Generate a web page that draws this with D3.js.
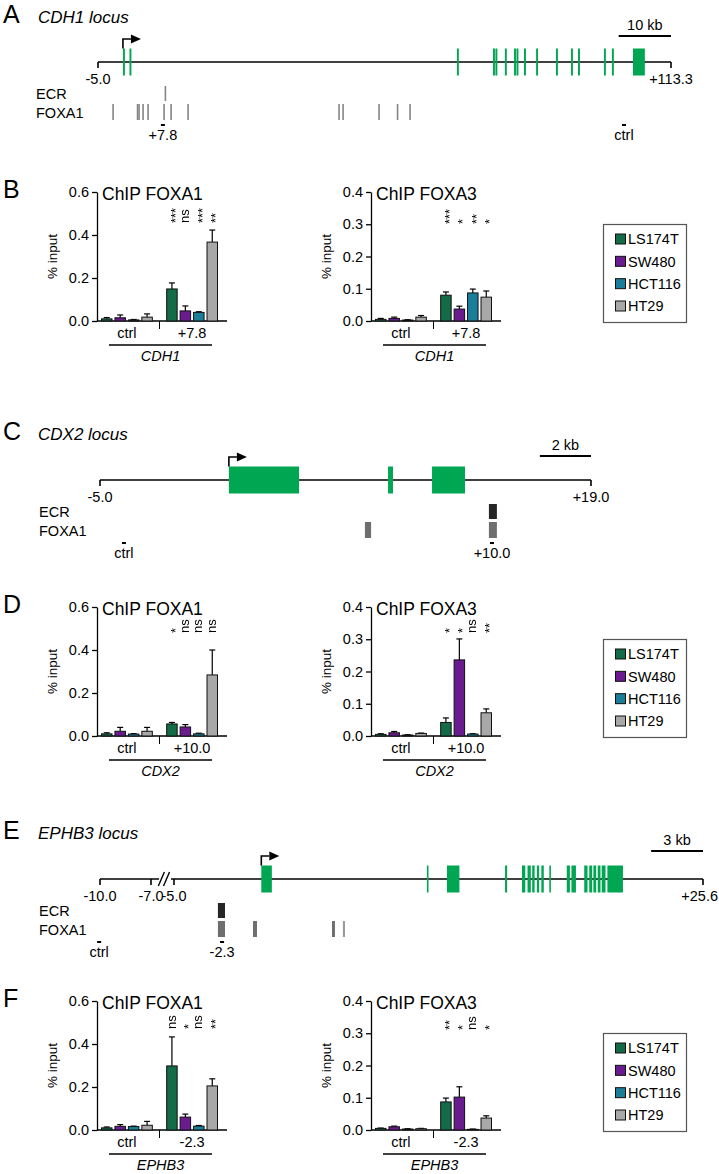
<!DOCTYPE html>
<html><head><meta charset="utf-8">
<script src="https://cdn.jsdelivr.net/npm/d3@7"></script>
<style>body{margin:0;background:#fff}svg{display:block}.sig{filter:grayscale(100%);opacity:0.999}</style>
</head><body>
<svg id="fig" width="719" height="1174"></svg>
<script>
const FONT = '"Liberation Sans", Arial, Helvetica, sans-serif';

// ---------- bar chart data ----------
const cellLines = ["LS174T", "SW480", "HCT116", "HT29"];
const cellColors = ["#136b48", "#6a1b8f", "#1b7e98", "#a8a8a8"];
const foxa1Ticks = [0.0, 0.2, 0.4, 0.6];
const foxa3Ticks = [0.0, 0.1, 0.2, 0.3, 0.4];

const cdh1Sites = ["ctrl", "+7.8"];
const cdh1Foxa1Mean = [[0.010, 0.015, 0.005, 0.018], [0.149, 0.047, 0.040, 0.367]];
const cdh1Foxa1Err  = [[0.006, 0.013, 0.002, 0.015], [0.028, 0.023, 0.003, 0.056]];
const cdh1Foxa1Sig  = ["***", "ns", "***", "**"];
const cdh1Foxa3Mean = [[0.005, 0.008, 0.003, 0.012], [0.080, 0.037, 0.087, 0.074]];
const cdh1Foxa3Err  = [[0.003, 0.004, 0.001, 0.005], [0.010, 0.009, 0.012, 0.019]];
const cdh1Foxa3Sig  = ["***", "*", "**", "*"];

const cdx2Sites = ["ctrl", "+10.0"];
const cdx2Foxa1Mean = [[0.010, 0.022, 0.009, 0.022], [0.056, 0.042, 0.010, 0.284]];
const cdx2Foxa1Err  = [[0.005, 0.018, 0.002, 0.018], [0.007, 0.011, 0.003, 0.116]];
const cdx2Foxa1Sig  = ["*", "ns", "ns", "ns"];
const cdx2Foxa3Mean = [[0.005, 0.010, 0.003, 0.008], [0.042, 0.236, 0.006, 0.072]];
const cdx2Foxa3Err  = [[0.002, 0.004, 0.001, 0.001], [0.014, 0.065, 0.001, 0.012]];
const cdx2Foxa3Sig  = ["*", "*", "ns", "**"];

const ephb3Sites = ["ctrl", "-2.3"];
const ephb3Foxa1Mean = [[0.010, 0.017, 0.016, 0.022], [0.298, 0.060, 0.018, 0.205]];
const ephb3Foxa1Err  = [[0.004, 0.008, 0.002, 0.018], [0.135, 0.014, 0.003, 0.033]];
const ephb3Foxa1Sig  = ["ns", "*", "ns", "**"];
const ephb3Foxa3Mean = [[0.005, 0.010, 0.003, 0.004], [0.087, 0.102, 0.002, 0.037]];
const ephb3Foxa3Err  = [[0.001, 0.002, 0.001, 0.001], [0.012, 0.032, 0.001, 0.007]];
const ephb3Foxa3Sig  = ["**", "*", "ns", "*"];

// ---------- locus data (kb) ----------
const cdh1Ticks = [-5.0, 113.3];
const cdh1TickLabels = ["-5.0", "+113.3"];
const cdh1Exons = [[0.15,0.55],[1.5,1.9],[69.1,69.5],[76.55,76.95],[77.05,77.45],[79.0,79.4],[80.9,81.3],[81.4,81.8],[82.95,83.35],[85.45,85.85],[89.55,89.95],[92.65,93.05],[94.1,94.5],[99.45,99.85],[101.1,101.5],[105.45,107.9]];
const cdh1Ecr = [[8.75,8.95]];
const cdh1Foxa1 = [[-2.05,-1.75],[3.0,3.3],[3.31,3.61],[4.14,4.44],[5.17,5.47],[8.47,8.77],[9.92,10.22],[13.43,13.73],[44.6,44.9],[45.43,45.73],[52.86,53.16],[56.68,56.98],[59.26,59.56]];
const cdh1Amplicons = [8.4, 103.6];
const cdh1AmpliconLabels = ["+7.8", "ctrl"];
const cdh1ScaleBar = [102.5, 113.3];

const cdx2Ticks = [-5.0, 19.0];
const cdx2TickLabels = ["-5.0", "+19.0"];
const cdx2Exons = [[1.3,4.73],[9.08,9.32],[11.23,12.84]];
const cdx2Ecr = [[14.01,14.4]];
const cdx2Foxa1 = [[7.95,8.25],[14.01,14.4]];
const cdx2Amplicons = [-3.83, 14.16];
const cdx2AmpliconLabels = ["ctrl", "+10.0"];
const cdx2ScaleBar = [16.5, 19.0];

const ephb3Ticks = [-10.0, -7.0, -5.0, 25.6];
const ephb3TickLabels = ["-10.0", "-7.0", "-5.0", "+25.6"];
const ephb3Exons = [[0.05,0.66],[9.63,9.72],[10.79,11.51],[14.15,14.27],[15.13,15.32],[15.45,15.64],[15.72,15.86],[15.99,16.12],[16.25,16.39],[16.71,16.79],[17.72,17.9],[17.99,18.25],[18.73,18.92],[19.02,19.19],[19.26,19.42],[19.51,19.67],[19.74,19.96],[20.07,20.97]];
const ephb3Ecr = [[-2.46,-2.05]];
const ephb3Foxa1 = [[-2.46,-2.05],[-0.43,-0.2],[4.14,4.31],[4.77,4.89]];
const ephb3Amplicons = [-10.05, -2.22];
const ephb3AmpliconLabels = ["ctrl", "-2.3"];
const ephb3ScaleBar = [22.6, 25.6];
const ephb3LineSegments = [[-10, -6.3], [-5.26, 25.6]];
const ephb3BreakMarks = [-6.1, -5.65];

// ---------- drawing ----------
const svg = d3.select("#fig");
svg.append("rect").attr("width", 719).attr("height", 1174).attr("fill", "#fff");

function txt(g, x, y, s, size, opts = {}) {
  return g.append("text").attr("x", x).attr("y", y).text(s)
    .attr("font-family", FONT).attr("font-size", size).attr("fill", opts.fill || "#000")
    .attr("text-anchor", opts.anchor || "start")
    .attr("font-style", opts.italic ? "italic" : "normal");
}

function locus(L) {
  const g = svg.append("g");
  const x = d3.scaleLinear().domain(L.domain).range(L.range);
  const y0 = L.lineY;
  txt(g, 3, L.titleY, L.letter, 25);
  txt(g, 38, L.titleY, L.title, 17, {italic: true});
  const segs = L.segments || [[L.ticks[0], L.ticks[L.ticks.length - 1]]];
  segs.forEach(s => g.append("line").attr("x1", x(s[0])).attr("x2", x(s[1])).attr("y1", y0).attr("y2", y0)
    .attr("stroke", "#000").attr("stroke-width", 1.6));
  (L.breaks || []).forEach(b => g.append("line").attr("x1", x(b) - 3).attr("x2", x(b) + 3)
    .attr("y1", y0 + 7).attr("y2", y0 - 7).attr("stroke", "#000").attr("stroke-width", 1.4));
  L.ticks.forEach((t, i) => {
    g.append("line").attr("x1", x(t)).attr("x2", x(t)).attr("y1", y0).attr("y2", y0 + 6)
      .attr("stroke", "#000").attr("stroke-width", 1.6);
    const tt = txt(g, x(t), y0 + 22, L.tickLabels[i], 14.5, {anchor: "middle"});
    const bb = tt.node().getBBox();
    if (bb.x + bb.width > 718) tt.attr("x", x(t) - (bb.x + bb.width - 718));
  });
  g.selectAll(null).data(L.exons).join("rect")
    .attr("x", d => x(d[0])).attr("width", d => Math.max(1.6, x(d[1]) - x(d[0])))
    .attr("y", y0 - 13.5).attr("height", 27).attr("fill", "#00a651");
  const tx = x(L.exons[0][0]);
  g.append("path").attr("d", `M${tx},${y0 - 13.5}V${y0 - 23}H${tx + 8}`)
    .attr("fill", "none").attr("stroke", "#000").attr("stroke-width", 1.6);
  g.append("path").attr("d", `M${tx + 8},${y0 - 27.5}L${tx + 18},${y0 - 23}L${tx + 8},${y0 - 18.5}Z`).attr("fill", "#000");
  const sy = y0 - L.sbOff;
  g.append("line").attr("x1", x(L.scaleBar[0])).attr("x2", x(L.scaleBar[1])).attr("y1", sy).attr("y2", sy)
    .attr("stroke", "#000").attr("stroke-width", 2);
  txt(g, (x(L.scaleBar[0]) + x(L.scaleBar[1])) / 2, sy - 6, L.scaleLabel, 14.5, {anchor: "middle"});
  txt(g, L.labelX, y0 + 37, "ECR", 14.5);
  txt(g, L.labelX, y0 + 56, "FOXA1", 14.5);
  g.selectAll(null).data(L.ecr).join("rect")
    .attr("x", d => x(d[0])).attr("width", d => Math.max(1.6, x(d[1]) - x(d[0])))
    .attr("y", y0 + 24).attr("height", 15).attr("fill", L.ecrColor);
  g.selectAll(null).data(L.foxa1).join("rect")
    .attr("x", d => x(d[0])).attr("width", d => Math.max(1.6, x(d[1]) - x(d[0])))
    .attr("y", y0 + 42).attr("height", 16).attr("fill", (d, i) => (L.foxa1Light && L.foxa1Light.includes(i)) ? "#9a9a9a" : L.foxa1Color);
  L.amplicons.forEach((a, i) => {
    g.append("rect").attr("x", x(a) - 2).attr("y", y0 + 62).attr("width", 4).attr("height", 2).attr("fill", "#000");
    txt(g, x(a), y0 + 78, L.ampliconLabels[i], 14.5, {anchor: "middle"});
  });
}

locus({letter: "A", title: "CDH1 locus", titleY: 23, lineY: 62, domain: [-5, 113.3], range: [98, 671],
  ticks: cdh1Ticks, tickLabels: cdh1TickLabels, exons: cdh1Exons, ecr: cdh1Ecr, foxa1: cdh1Foxa1,
  amplicons: cdh1Amplicons, ampliconLabels: cdh1AmpliconLabels, scaleBar: cdh1ScaleBar, scaleLabel: "10 kb",
  sbOff: 26, labelX: 36, ecrColor: "#858585", foxa1Color: "#858585"});

locus({letter: "C", title: "CDX2 locus", titleY: 440, lineY: 480, domain: [-5, 19], range: [100, 591],
  ticks: cdx2Ticks, tickLabels: cdx2TickLabels, exons: cdx2Exons, ecr: cdx2Ecr, foxa1: cdx2Foxa1,
  amplicons: cdx2Amplicons, ampliconLabels: cdx2AmpliconLabels, scaleBar: cdx2ScaleBar, scaleLabel: "2 kb",
  sbOff: 24, labelX: 39, ecrColor: "#262626", foxa1Color: "#6e6e6e"});

locus({letter: "E", title: "EPHB3 locus", titleY: 839, lineY: 879, domain: [-10, -7, -5, 25.6], range: [100, 151, 174, 703],
  ticks: ephb3Ticks, tickLabels: ephb3TickLabels, exons: ephb3Exons, ecr: ephb3Ecr, foxa1: ephb3Foxa1, foxa1Light: [3],
  segments: ephb3LineSegments, breaks: ephb3BreakMarks,
  amplicons: ephb3Amplicons, ampliconLabels: ephb3AmpliconLabels, scaleBar: ephb3ScaleBar, scaleLabel: "3 kb",
  sbOff: 28, labelX: 39, ecrColor: "#262626", foxa1Color: "#6e6e6e"});

function barChart(C) {
  const g = svg.append("g");
  const x0 = C.x0, yT = C.yT, yB = yT + 129;
  const y = d3.scaleLinear().domain([0, C.max]).range([yB, yT]);
  const xg = d3.scaleBand().domain(C.sites).range([x0 + 4.5, x0 + 120.5]).paddingInner(0.22);
  const xi = d3.scaleBand().domain(cellLines).range([0, xg.bandwidth()]).paddingInner(0.22);
  const ax = g.append("g").attr("transform", `translate(${x0},0)`)
    .call(d3.axisLeft(y).tickValues(C.ticks).tickFormat(d3.format(".1f")).tickSize(5).tickSizeOuter(0).tickPadding(3));
  ax.select(".domain").attr("stroke", "#000").attr("stroke-width", 1.3);
  ax.selectAll(".tick line").attr("stroke", "#000").attr("stroke-width", 1.3);
  ax.selectAll(".tick text").attr("font-size", 14.5).attr("font-family", FONT).attr("fill", "#000");
  g.append("line").attr("x1", x0).attr("x2", x0 + 130).attr("y1", yB).attr("y2", yB).attr("stroke", "#000").attr("stroke-width", 1.3);
  const sepX = (xg(C.sites[0]) + xg.bandwidth() + xg(C.sites[1])) / 2;
  g.append("line").attr("x1", sepX).attr("x2", sepX).attr("y1", yB).attr("y2", yB + 8).attr("stroke", "#000").attr("stroke-width", 1);
  const data = [];
  C.sites.forEach((s, si) => cellLines.forEach((c, ci) => data.push({s, c, ci, si, v: C.mean[si][ci], e: C.err[si][ci]})));
  const bx = d => xg(d.s) + xi(d.c);
  const bw = xi.bandwidth();
  g.selectAll(null).data(data).join("line")
    .attr("x1", d => bx(d) + bw / 2).attr("x2", d => bx(d) + bw / 2)
    .attr("y1", d => y(d.v)).attr("y2", d => y(d.v + d.e)).attr("stroke", "#000").attr("stroke-width", 1.2);
  g.selectAll(null).data(data).join("line")
    .attr("x1", d => bx(d) + bw / 2 - 3).attr("x2", d => bx(d) + bw / 2 + 3)
    .attr("y1", d => y(d.v + d.e)).attr("y2", d => y(d.v + d.e)).attr("stroke", "#000").attr("stroke-width", 1.2);
  g.selectAll(null).data(data).join("rect")
    .attr("x", d => bx(d)).attr("width", bw).attr("y", d => y(d.v)).attr("height", d => yB - y(d.v))
    .attr("fill", d => cellColors[d.ci]).attr("stroke", "#111").attr("stroke-width", 1);
  const sg = g.append("g").attr("class", "sig");
  C.sig.forEach((s, ci) => {
    const cx = xg(C.sites[1]) + xi(cellLines[ci]) + bw / 2;
    const sy = yT + C.sigOff;
    sg.append("text").text(s).attr("transform", `translate(${cx},${sy}) rotate(-90)`)
      .attr("dy", s.startsWith("*") ? "0.62em" : "0.28em")
      .attr("font-family", FONT).attr("font-size", 13).attr("fill", "#000");
  });
  txt(g, x0 + 5, yT + 8, C.title, 17.5);
  g.append("text").text("% input").attr("transform", `translate(${x0 - 40},${(yT + yB) / 2}) rotate(-90)`)
    .attr("text-anchor", "middle").attr("font-family", FONT).attr("font-size", 13.5).attr("fill", "#000");
  C.sites.forEach(s => txt(g, xg(s) + xg.bandwidth() / 2, yB + 17, s, 14.5, {anchor: "middle"}));
  g.append("line").attr("x1", x0 + 12).attr("x2", x0 + 115).attr("y1", yB + 24).attr("y2", yB + 24).attr("stroke", "#000").attr("stroke-width", 1.3);
  txt(g, x0 + 63.5, yB + 40, C.gene, 14.5, {anchor: "middle", italic: true});
}

function legend(yT) {
  const g = svg.append("g");
  g.append("rect").attr("x", 603.5).attr("y", yT + 32.5).attr("width", 83).attr("height", 98)
    .attr("fill", "#fff").attr("stroke", "#555").attr("stroke-width", 1.2);
  const rows = d3.scalePoint().domain(cellLines).range([yT + 47, yT + 114]);
  cellLines.forEach((c, i) => {
    g.append("rect").attr("x", 615.5).attr("y", rows(c) - 5).attr("width", 10).attr("height", 10)
      .attr("fill", cellColors[i]).attr("stroke", "#111").attr("stroke-width", 1);
    txt(g, 628, rows(c) + 5.3, c, 14.5);
  });
}

function panelPair(letter, yT, gene, sites, f1, f3, sigOffs) {
  txt(svg, 3, yT + 6, letter, 25);
  barChart({x0: 97, yT, max: 0.6, ticks: foxa1Ticks, title: "ChIP FOXA1", sites, gene,
    mean: f1[0], err: f1[1], sig: f1[2], sigOff: sigOffs[0]});
  barChart({x0: 371, yT, max: 0.4, ticks: foxa3Ticks, title: "ChIP FOXA3", sites, gene,
    mean: f3[0], err: f3[1], sig: f3[2], sigOff: sigOffs[1]});
  legend(yT);
}

panelPair("B", 192, "CDH1", cdh1Sites, [cdh1Foxa1Mean, cdh1Foxa1Err, cdh1Foxa1Sig], [cdh1Foxa3Mean, cdh1Foxa3Err, cdh1Foxa3Sig], [31, 32]);
panelPair("D", 607, "CDX2", cdx2Sites, [cdx2Foxa1Mean, cdx2Foxa1Err, cdx2Foxa1Sig], [cdx2Foxa3Mean, cdx2Foxa3Err, cdx2Foxa3Sig], [26, 26]);
panelPair("F", 1001, "EPHB3", ephb3Sites, [ephb3Foxa1Mean, ephb3Foxa1Err, ephb3Foxa1Sig], [ephb3Foxa3Mean, ephb3Foxa3Err, ephb3Foxa3Sig], [28, 29]);
</script>
</body></html>
